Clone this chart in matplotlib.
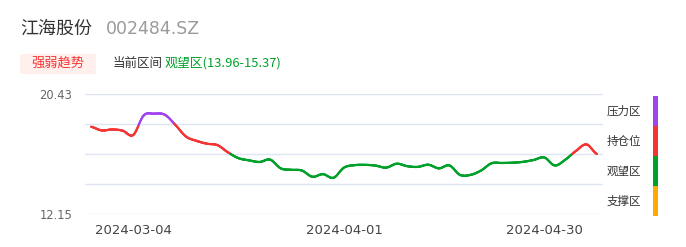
import numpy as np
import matplotlib.pyplot as plt
from matplotlib.collections import LineCollection
from matplotlib.patches import Rectangle

CJK = ['Noto Sans CJK SC', 'DejaVu Sans']

# 交易日 (2024-02-27 ~ 2024-05-10)
dates = ['2024-02-27', '2024-02-28', '2024-02-29', '2024-03-01',
         '2024-03-04', '2024-03-05', '2024-03-06', '2024-03-07', '2024-03-08',
         '2024-03-11', '2024-03-12', '2024-03-13', '2024-03-14', '2024-03-15',
         '2024-03-18', '2024-03-19', '2024-03-20', '2024-03-21', '2024-03-22',
         '2024-03-25', '2024-03-26', '2024-03-27', '2024-03-28', '2024-03-29',
         '2024-04-01', '2024-04-02', '2024-04-03',
         '2024-04-08', '2024-04-09', '2024-04-10', '2024-04-11', '2024-04-12',
         '2024-04-15', '2024-04-16', '2024-04-17', '2024-04-18', '2024-04-19',
         '2024-04-22', '2024-04-23', '2024-04-24', '2024-04-25', '2024-04-26',
         '2024-04-29', '2024-04-30',
         '2024-05-06', '2024-05-07', '2024-05-08', '2024-05-09', '2024-05-10']
prices = [18.17, 17.92, 17.98, 17.90, 17.60, 18.95, 19.07, 19.00, 18.30,
          17.50, 17.20, 17.00, 16.90, 16.40, 16.00, 15.85, 15.74, 15.90, 15.30,
          15.20, 15.15, 14.72, 14.90, 14.65, 15.35, 15.52, 15.54, 15.49, 15.35,
          15.62, 15.45, 15.40, 15.55, 15.30, 15.50, 14.85, 14.85, 15.15, 15.65,
          15.67, 15.69, 15.75, 15.88, 16.05, 15.50, 15.90, 16.50, 16.95, 16.29]
tick_dates = ['2024-03-04', '2024-04-01', '2024-04-30']
y_min, y_max = 12.15, 20.43

zones = ['压力区', '持仓位', '观望区', '支撑区']
zone_colors = ['#a044f0', '#f53434', '#00a12a', '#fdab00']

W, H = 686, 247
fig = plt.figure(figsize=(W / 100, H / 100), dpi=100)


def fx(x):
    return x / W


def fy(y):
    return 1 - y / H


# 标题
fig.text(fx(20), fy(29), '江海股份', fontsize=13, color='#333333', family=CJK, va='center')
fig.text(fx(106), fy(29), '002484.SZ', fontsize=12.5, color='#9a9a9a', family='DejaVu Sans', va='center')
fig.patches.append(Rectangle((fx(20), fy(74)), fx(76), 20 / H, transform=fig.transFigure,
                             facecolor='#fff0ee', edgecolor='none'))
fig.text(fx(58), fy(63), '强弱趋势', fontsize=9.5, color='#f53434', family=CJK, ha='center', va='center')
fig.text(fx(113), fy(63), '当前区间', fontsize=9, color='#333333', family=CJK, va='center')
fig.text(fx(165), fy(63), '观望区(13.96-15.37)', fontsize=9.3, color='#00a12a', family=CJK, va='center')

# 主图
ax = fig.add_axes([fx(85), fy(214), fx(603 - 85), (214 - 94) / H])
x = np.arange(len(prices))
y = np.array(prices)

# Catmull-Rom 平滑
xs, ys = [], []
p = np.concatenate([[y[0]], y, [y[-1]]])
for i in range(len(y) - 1):
    p0, p1, p2, p3 = p[i], p[i + 1], p[i + 2], p[i + 3]
    t = np.linspace(0, 1, 20, endpoint=False)
    seg = 0.5 * ((2 * p1) + (-p0 + p2) * t + (2 * p0 - 5 * p1 + 4 * p2 - p3) * t ** 2
                 + (-p0 + 3 * p1 - 3 * p2 + p3) * t ** 3)
    xs.extend(i + t)
    ys.extend(seg)
xs.append(x[-1])
ys.append(y[-1])
xs, ys = np.array(xs), np.array(ys)

step = (y_max - y_min) / 4
levels = [y_min + step * k for k in range(5)]


def zone_color(v):
    if v >= levels[3]:
        return zone_colors[0]
    if v >= levels[2]:
        return zone_colors[1]
    if v >= levels[1]:
        return zone_colors[2]
    return zone_colors[3]


pts = np.column_stack([xs, ys]).reshape(-1, 1, 2)
segs = np.concatenate([pts[:-1], pts[1:]], axis=1)
cols = [zone_color((ys[i] + ys[i + 1]) / 2) for i in range(len(ys) - 1)]
ax.add_collection(LineCollection(segs, colors=cols, linewidths=1.6, capstyle='round'))

ax.set_xlim(-0.57, len(prices) - 1 + 0.57)
ax.set_ylim(y_min, y_max)
for lv in levels:
    ax.axhline(lv, color='#dfe4f2', lw=1, zorder=0)
for s in ax.spines.values():
    s.set_visible(False)
ax.set_yticks([y_min, y_max])
ax.set_yticklabels(['%.2f' % y_min, '%.2f' % y_max], fontsize=8.3, color='#666666', family='DejaVu Sans')
ax.set_xticks([dates.index(d) for d in tick_dates])
ax.set_xticklabels(tick_dates, fontsize=9.5, color='#444444', family='DejaVu Sans')
ax.tick_params(length=0, pad=7)
ax.tick_params(axis='y', pad=9)

# 右侧图例
for k, (name, c) in enumerate(zip(zones, zone_colors)):
    top = 96 + 30 * k
    fig.patches.append(Rectangle((fx(653), fy(top + 30)), fx(5), 30 / H, transform=fig.transFigure,
                                 facecolor=c, edgecolor='none'))
    fig.text(fx(607), fy(top + 15), name, fontsize=8.3, color='#333333', family=CJK, va='center')

fig.savefig('out.png', dpi=100)
